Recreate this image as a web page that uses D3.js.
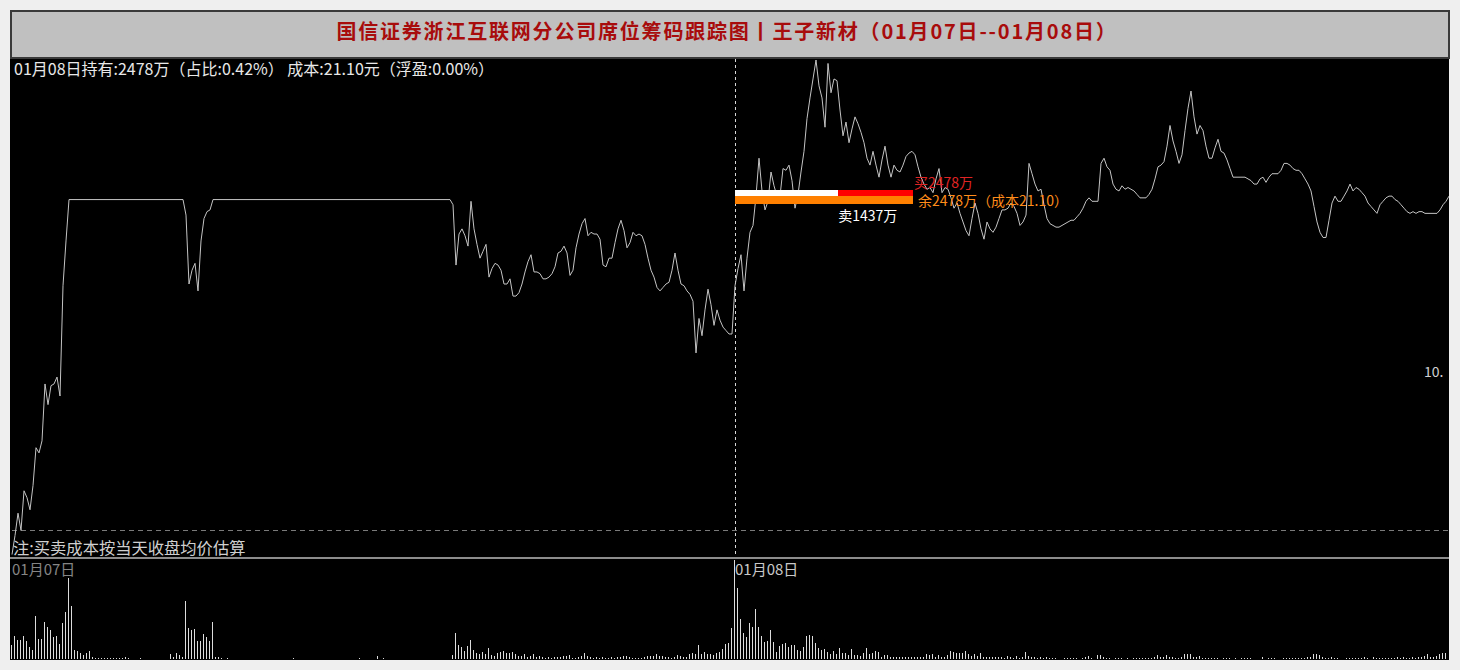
<!DOCTYPE html>
<html>
<head>
<meta charset="utf-8">
<script src="https://cdn.jsdelivr.net/npm/d3@7"></script>
<style>
  html, body { margin: 0; padding: 0; background: #efefef; }
  svg { display: block; }
  text { font-family: "Noto Sans CJK SC", "Noto Sans", sans-serif; }
</style>
</head>
<body>
<div id="chip-chart"></div>
<script>
// texts
const chartTitle = '国信证券浙江互联网分公司席位筹码跟踪图丨王子新材（01月07日--01月08日）';
const holdingText = '01月08日持有:2478万（占比:0.42%） 成本:21.10元（浮盈:0.00%）';
const noteText = '注:买卖成本按当天收盘均价估算';
const dayLabels = ['01月07日', '01月08日'];
const sideLabel = '10.';

// one price per minute (yuan)
const day1Price = [
  19.04, 19.15, 19.28, 19.18, 19.41, 19.37, 19.30, 19.44, 19.66, 19.63,
  19.70, 20.03, 19.91, 20.02, 20.03, 20.07, 19.96, 20.60, 20.86, 21.10,
  21.10, 21.10, 21.10, 21.10, 21.10, 21.10, 21.10, 21.10, 21.10, 21.10,
  21.10, 21.10, 21.10, 21.10, 21.10, 21.10, 21.10, 21.10, 21.10, 21.10,
  21.10, 21.10, 21.10, 21.10, 21.10, 21.10, 21.10, 21.10, 21.10, 21.10,
  21.10, 21.10, 21.10, 21.10, 21.10, 21.10, 21.10, 21.10, 21.01, 20.61,
  20.69, 20.73, 20.57, 20.86, 20.99, 21.03, 21.04, 21.10, 21.10, 21.10,
  21.10, 21.10, 21.10, 21.10, 21.10, 21.10, 21.10, 21.10, 21.10, 21.10,
  21.10, 21.10, 21.10, 21.10, 21.10, 21.10, 21.10, 21.10, 21.10, 21.10,
  21.10, 21.10, 21.10, 21.10, 21.10, 21.10, 21.10, 21.10, 21.10, 21.10,
  21.10, 21.10, 21.10, 21.10, 21.10, 21.10, 21.10, 21.10, 21.10, 21.10,
  21.10, 21.10, 21.10, 21.10, 21.10, 21.10, 21.10, 21.10, 21.10, 21.10,
  21.10, 21.10, 21.10, 21.10, 21.10, 21.10, 21.10, 21.10, 21.10, 21.10,
  21.10, 21.10, 21.10, 21.10, 21.10, 21.10, 21.10, 21.10, 21.10, 21.10,
  21.10, 21.10, 21.10, 21.10, 21.10, 21.10, 21.10, 21.07, 20.72, 20.90,
  20.93, 20.89, 20.83, 21.09, 20.93, 20.84, 20.76, 20.80, 20.84, 20.65,
  20.70, 20.73, 20.72, 20.69, 20.61, 20.61, 20.64, 20.54, 20.54, 20.56,
  20.61, 20.68, 20.74, 20.78, 20.68, 20.68, 20.67, 20.64, 20.64, 20.65,
  20.67, 20.71, 20.79, 20.80, 20.83, 20.79, 20.66, 20.69, 20.82, 20.90,
  20.96, 20.99, 20.89, 20.91, 20.90, 20.90, 20.87, 20.72, 20.71, 20.76,
  20.76, 20.85, 20.93, 20.98, 20.92, 20.82, 20.85, 20.91, 20.89, 20.90,
  20.89, 20.84, 20.76, 20.69, 20.65, 20.59, 20.57, 20.59, 20.61, 20.62,
  20.69, 20.79, 20.69, 20.61, 20.60, 20.57, 20.55, 20.51, 20.21, 20.41,
  20.31, 20.46, 20.58, 20.49, 20.37, 20.46, 20.40, 20.36, 20.34, 20.32,
  20.32
];

const day2Price = [
  20.60, 20.70, 20.78, 20.57, 20.76, 20.91, 20.95, 21.12, 21.34, 21.15,
  21.04, 21.09, 21.26, 21.18, 21.12, 21.12, 21.28, 21.27, 21.30, 21.21,
  21.05, 21.13, 21.26, 21.38, 21.57, 21.69, 21.80, 21.91, 21.76, 21.69,
  21.52, 21.89, 21.72, 21.80, 21.79, 21.62, 21.47, 21.55, 21.43, 21.51,
  21.58, 21.54, 21.49, 21.43, 21.34, 21.30, 21.38, 21.30, 21.23, 21.33,
  21.41, 21.30, 21.23, 21.30, 21.27, 21.26, 21.30, 21.35, 21.37, 21.38,
  21.36, 21.29, 21.23, 21.19, 21.16, 21.17, 21.14, 21.22, 21.28, 21.14,
  21.17, 21.16, 21.11, 21.05, 21.08, 21.02, 20.97, 20.92, 20.89, 20.99,
  21.08, 21.02, 20.93, 20.87, 20.97, 20.93, 20.91, 20.94, 20.99, 21.04,
  21.04, 21.05, 21.08, 21.06, 21.02, 20.95, 20.97, 21.01, 21.31, 21.25,
  21.19, 21.15, 21.16, 21.07, 20.99, 20.96, 20.95, 20.94, 20.94, 20.95,
  20.96, 20.97, 20.98, 20.98, 21.00, 21.02, 21.05, 21.09, 21.11, 21.09,
  21.09, 21.09, 21.31, 21.34, 21.29, 21.27, 21.19, 21.16, 21.15, 21.18,
  21.16, 21.17, 21.16, 21.15, 21.13, 21.11, 21.11, 21.11, 21.13, 21.16,
  21.22, 21.29, 21.30, 21.32, 21.41, 21.53, 21.44, 21.38, 21.31, 21.36,
  21.50, 21.63, 21.73, 21.58, 21.48, 21.53, 21.50, 21.41, 21.34, 21.34,
  21.40, 21.45, 21.38, 21.37, 21.33, 21.28, 21.23, 21.23, 21.23, 21.23,
  21.23, 21.22, 21.21, 21.19, 21.19, 21.22, 21.23, 21.20, 21.23, 21.25,
  21.25, 21.25, 21.27, 21.31, 21.31, 21.30, 21.28, 21.27, 21.27, 21.25,
  21.22, 21.19, 21.15, 21.06, 20.97, 20.91, 20.88, 20.88, 20.98, 21.08,
  21.12, 21.09, 21.09, 21.12, 21.15, 21.19, 21.15, 21.17, 21.16, 21.14,
  21.12, 21.08, 21.06, 21.04, 21.02, 21.07, 21.09, 21.11, 21.12, 21.12,
  21.10, 21.09, 21.07, 21.05, 21.03, 21.02, 21.03, 21.02, 21.03, 21.03,
  21.02, 21.02, 21.02, 21.02, 21.02, 21.04, 21.07, 21.09, 21.12
];

// minute volume, hundreds of lots
const day1Volume = [
  14, 23, 19, 19, 23, 18, 12, 9, 43, 20,
  20, 37, 32, 29, 22, 23, 15, 36, 47, 81,
  53, 9, 8, 6, 4, 6, 8, 2, 1, 1,
  1, 1, 1, 1, 1, 1, 1, 1, 2, 1,
  0, 0, 0, 1, 0, 0, 0, 0, 0, 0,
  0, 0, 0, 5, 2, 6, 4, 2, 58, 31,
  29, 30, 18, 18, 25, 22, 18, 37, 2, 2,
  1, 0, 1, 0, 0, 0, 0, 0, 0, 0,
  0, 0, 0, 0, 0, 0, 0, 0, 0, 0,
  0, 0, 0, 0, 1, 0, 0, 0, 0, 0,
  0, 0, 0, 0, 0, 0, 0, 0, 0, 0,
  0, 0, 0, 0, 0, 0, 1, 0, 0, 0,
  0, 0, 3, 0, 1, 0, 0, 0, 0, 0,
  0, 0, 0, 0, 0, 0, 0, 0, 0, 0,
  0, 0, 0, 0, 0, 0, 0, 4, 26, 14,
  12, 8, 13, 19, 9, 6, 5, 7, 5, 11,
  4, 3, 6, 7, 8, 6, 6, 7, 5, 3,
  3, 5, 2, 3, 5, 2, 3, 2, 1, 2,
  1, 2, 2, 2, 3, 3, 4, 1, 1, 2,
  3, 6, 3, 2, 1, 2, 1, 2, 1, 1,
  2, 1, 2, 2, 3, 3, 2, 1, 1, 1,
  1, 2, 3, 3, 3, 5, 3, 3, 2, 2,
  1, 2, 4, 3, 2, 2, 5, 6, 5, 14,
  5, 7, 5, 5, 4, 6, 7, 10, 15, 16,
  31
];

const day2Volume = [
  99, 71, 40, 26, 22, 36, 32, 50, 32, 23,
  17, 18, 29, 17, 7, 13, 15, 16, 12, 14,
  14, 9, 8, 12, 23, 24, 23, 16, 11, 9,
  10, 7, 5, 8, 5, 11, 6, 6, 4, 10,
  4, 4, 3, 6, 11, 5, 6, 8, 7, 2,
  4, 4, 2, 2, 2, 2, 2, 2, 2, 2,
  2, 2, 2, 2, 5, 4, 5, 2, 4, 2,
  2, 4, 8, 7, 6, 6, 6, 8, 5, 3,
  5, 3, 6, 2, 2, 2, 2, 2, 2, 2,
  1, 3, 2, 1, 3, 1, 2, 7, 3, 2,
  2, 1, 2, 1, 2, 1, 1, 1, 0, 0,
  1, 1, 1, 1, 1, 0, 1, 2, 3, 1,
  0, 4, 4, 2, 1, 1, 0, 1, 1, 1,
  0, 1, 0, 1, 1, 1, 1, 1, 1, 1,
  2, 4, 2, 2, 4, 2, 2, 1, 1, 2,
  5, 5, 5, 2, 2, 3, 1, 1, 1, 1,
  1, 1, 0, 1, 1, 1, 0, 1, 0, 1,
  1, 1, 1, 0, 0, 0, 2, 0, 1, 1,
  1, 0, 0, 1, 1, 1, 1, 1, 1, 1,
  1, 2, 2, 5, 5, 4, 2, 1, 1, 2,
  1, 1, 0, 0, 1, 1, 1, 1, 1, 1,
  2, 1, 0, 2, 1, 1, 1, 1, 1, 1,
  1, 2, 1, 2, 1, 1, 2, 1, 2, 2,
  3, 5, 2, 2, 3, 5, 6, 6
];

// seat flows on 01/08, in 万股
const flowNames = ['买', '卖', '余'];
const flowAmounts = [2478, 1437, 2478];
const costPrice = [21.10];
const prevClose = [19.18];

const W = 1460, H = 670;
const minutesPerDay = 241;

const svg = d3.select('#chip-chart').append('svg')
  .attr('width', W)
  .attr('height', H)
  .attr('viewBox', `0 0 ${W} ${H}`);

svg.append('rect').attr('width', W).attr('height', H).attr('fill', '#efefef');

// black plotting area
svg.append('rect')
  .attr('x', 10).attr('y', 58)
  .attr('width', 1439).attr('height', 602)
  .attr('fill', '#000');

// title bar with its dark border
svg.append('rect')
  .attr('x', 10).attr('y', 10)
  .attr('width', 1440).attr('height', 49)
  .attr('fill', '#3a3a3a');
svg.append('rect')
  .attr('x', 12).attr('y', 12)
  .attr('width', 1436).attr('height', 45)
  .attr('fill', '#c0c0c0');
svg.append('text')
  .attr('x', 727).attr('y', 39)
  .attr('text-anchor', 'middle')
  .attr('font-size', 20)
  .attr('font-weight', 700)
  .attr('letter-spacing', 1.8)
  .attr('fill', '#a80c0c')
  .text(chartTitle);

// scales
const xScale = d3.scaleLinear().domain([0, 482]).range([12, 1458]);
const priceScale = d3.scaleLinear().domain([19.02, 21.91]).range([558, 60]);
const volumeScale = d3.scaleLinear().domain([0, 100]).range([659, 559]);

const defs = svg.append('defs');
defs.append('clipPath').attr('id', 'price-clip')
  .append('rect').attr('x', 10).attr('y', 59).attr('width', 1439).attr('height', 498);
defs.append('clipPath').attr('id', 'vol-clip')
  .append('rect').attr('x', 10).attr('y', 559).attr('width', 1439).attr('height', 101);

const prices = day1Price.concat(day2Price);
const volumes = day1Volume.concat(day2Volume);
const dayStart = xScale(minutesPerDay);

// previous close reference (dashed)
svg.append('line')
  .attr('x1', 12).attr('x2', 1449)
  .attr('y1', Math.round(priceScale(prevClose[0])) + 0.5)
  .attr('y2', Math.round(priceScale(prevClose[0])) + 0.5)
  .attr('stroke', '#7a7a7a')
  .attr('stroke-dasharray', '5,4');

// day divider
svg.append('line')
  .attr('x1', Math.round(dayStart) + 0.5).attr('x2', Math.round(dayStart) + 0.5)
  .attr('y1', 59).attr('y2', 557)
  .attr('stroke', '#d8d8d8')
  .attr('stroke-dasharray', '3,3');

// panel separator
svg.append('line')
  .attr('x1', 10).attr('x2', 1449)
  .attr('y1', 558).attr('y2', 558)
  .attr('stroke', '#8c8c8c')
  .attr('stroke-width', 2);

// price line
const priceLine = d3.line()
  .x(function(d, i) { return xScale(i); })
  .y(function(d) { return priceScale(d); });

svg.append('path')
  .datum(prices)
  .attr('clip-path', 'url(#price-clip)')
  .attr('fill', 'none')
  .attr('stroke', '#c4c4c4')
  .attr('stroke-width', 1)
  .attr('d', priceLine);

// volume bars, one thin line per minute
svg.append('g')
  .attr('clip-path', 'url(#vol-clip)')
  .selectAll('line')
  .data(volumes)
  .enter().append('line')
    .attr('x1', function(d, i) { return Math.round(xScale(i)) - 0.5; })
    .attr('x2', function(d, i) { return Math.round(xScale(i)) - 0.5; })
    .attr('y1', volumeScale(0))
    .attr('y2', function(d) { return volumeScale(d); })
    .attr('stroke', '#dcdcdc')
    .attr('stroke-width', 1)
    .attr('shape-rendering', 'crispEdges');

// seat flow bars at the cost level
const amountScale = d3.scaleLinear()
  .domain([0, d3.max(flowAmounts)])
  .range([dayStart, dayStart + 178]);
const costY = priceScale(costPrice[0]);

const flowGroup = svg.append('g').attr('shape-rendering', 'crispEdges');
flowGroup.append('rect')
  .attr('x', dayStart).attr('y', costY - 10)
  .attr('width', amountScale(flowAmounts[0]) - dayStart).attr('height', 6)
  .attr('fill', '#ff0000');
flowGroup.append('rect')
  .attr('x', dayStart).attr('y', costY - 10)
  .attr('width', amountScale(flowAmounts[1]) - dayStart).attr('height', 6)
  .attr('fill', '#ffffff');
flowGroup.append('rect')
  .attr('x', dayStart).attr('y', costY - 4)
  .attr('width', amountScale(flowAmounts[2]) - dayStart).attr('height', 8)
  .attr('fill', '#ff8000');

svg.append('text')
  .attr('x', amountScale(flowAmounts[0]) + 1).attr('y', costY - 12)
  .attr('font-size', 14).attr('fill', '#e02424')
  .text(`${flowNames[0]}${flowAmounts[0]}万`);
svg.append('text')
  .attr('x', amountScale(flowAmounts[2]) + 5).attr('y', costY + 6)
  .attr('font-size', 14).attr('fill', '#ff8c1a')
  .text(`${flowNames[2]}${flowAmounts[2]}万（成本${costPrice[0].toFixed(2)}）`);
svg.append('text')
  .attr('x', amountScale(flowAmounts[1])).attr('y', costY + 21)
  .attr('font-size', 14).attr('fill', '#ffffff')
  .text(`${flowNames[1]}${flowAmounts[1]}万`);

// corner and panel texts
svg.append('text')
  .attr('x', 14).attr('y', 75)
  .attr('font-size', 16).attr('fill', '#e8e8e8')
  .text(holdingText);

svg.append('text')
  .attr('x', 13).attr('y', 554)
  .attr('font-size', 16.3).attr('fill', '#cfcfcf')
  .text(noteText);

svg.append('text')
  .attr('x', 1424).attr('y', 377)
  .attr('font-size', 14).attr('fill', '#d0d0d0')
  .text(sideLabel);

svg.selectAll('.day-label')
  .data(dayLabels)
  .enter().append('text')
    .attr('class', 'day-label')
    .attr('x', function(d, i) { return xScale(i * minutesPerDay); })
    .attr('y', 575)
    .attr('font-size', 15)
    .attr('fill', function(d, i) { return i === 0 ? '#858585' : '#c8c8c8'; })
    .text(function(d) { return d; });

// light strip to the right of the plot
svg.append('rect')
  .attr('x', 1449).attr('y', 59)
  .attr('width', 11).attr('height', 611)
  .attr('fill', '#efefef');
</script>
</body>
</html>
